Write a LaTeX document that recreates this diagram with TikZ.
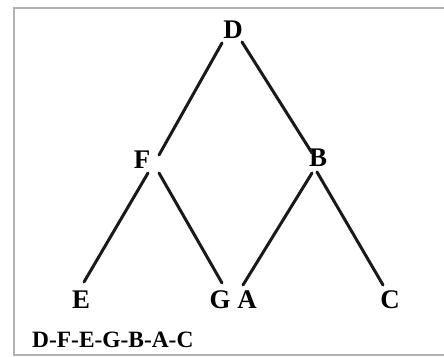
\documentclass[tikz,border=0pt]{standalone}
\usepackage{fontspec}
\setmainfont{Liberation Serif}
\begin{document}
\begin{tikzpicture}[x=1bp,y=-1bp,
  lbl/.style={font=\fontsize{27}{27}\selectfont\bfseries, inner sep=0pt},
  edge/.style={line width=3bp, line cap=round, black!90},
  frame/.style={line width=1.5bp, black!30}]
\useasboundingbox (0,0) rectangle (444,356);
\fill[white] (0,0) rectangle (444,356);
\draw[frame] (450,8) -- (14,8) -- (14,355) -- (450,355);
\node[lbl] (D) at (233,30) {D};
\node[lbl] (F) at (142,160) {F};
\node[lbl] (B) at (318,158) {B};
\node[lbl] (E) at (81,300) {E};
\node[lbl] (G) at (220,300) {G};
\node[lbl] (A) at (247,300) {A};
\node[lbl] (C) at (390,300) {C};
\node[lbl, anchor=west, font=\fontsize{23.5}{23.5}\selectfont\bfseries] (T) at (32,340) {D-F-E-G-B-A-C};
\draw[edge] ([shift={(-11,13)}]D.center) -- ([shift={(17,-5)}]F.center);
\draw[edge] ([shift={(9,12)}]D.center) -- ([shift={(-6,-5)}]B.center);
\draw[edge] ([shift={(6,13)}]F.center) -- ([shift={(3,-18)}]E.center);
\draw[edge] ([shift={(17,13)}]F.center) -- ([shift={(2,-17)}]G.center);
\draw[edge] ([shift={(-6,15)}]B.center) -- ([shift={(-4,-15)}]A.center);
\draw[edge] ([shift={(-1,14)}]B.center) -- ([shift={(-7,-15)}]C.center);
\end{tikzpicture}
\end{document}
